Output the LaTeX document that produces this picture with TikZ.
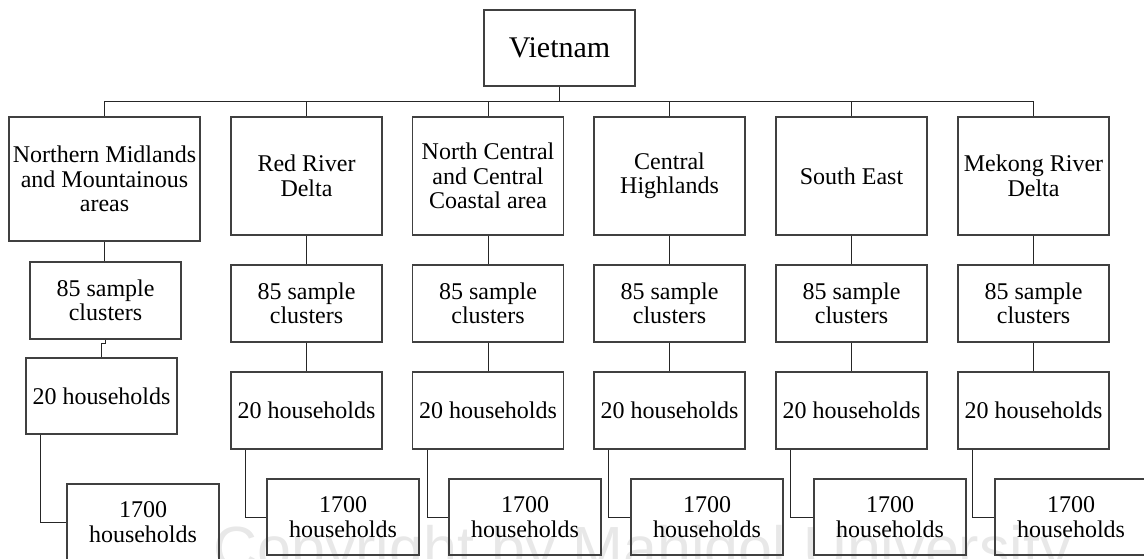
\documentclass[tikz,border=0pt]{standalone}
\usepackage{fontspec}
\setmainfont{Liberation Serif}
\newfontfamily\wmfont{Liberation Sans}
\begin{document}
\begin{tikzpicture}[x=1pt,y=-1pt,
  box/.style={draw=black!75,line width=1.1pt,inner sep=0pt,align=center,
    font=\fontsize{24}{24.5}\selectfont,minimum width=151pt,text=black},
  link/.style={draw=black!85,line width=1pt}]
\useasboundingbox (0,0) rectangle (1144,558);
\node[anchor=base west,text=black!9,inner sep=0pt,font=\wmfont\fontsize{61}{61}\selectfont] (wm) at (213,569) {Copyright by Mahidol University};
% top
\node[box,minimum width=151pt,minimum height=76pt,font=\fontsize{30}{31}\selectfont] (V) at (559.5,48) {Vietnam};
% row 1
\node[box,minimum width=191pt,minimum height=124pt] (A1) at (104.5,179) {Northern Midlands\\and Mountainous\\areas};
\node[box,minimum height=118pt] (B1) at (306.5,176) {Red River\\Delta};
\node[box,minimum height=118pt] (C1) at (488,176) {North Central\\and Central\\Coastal area};
\node[box,minimum height=118pt] (D1) at (669.5,176) {Central\\Highlands};
\node[box,minimum height=118pt] (E1) at (851.5,176) {South East};
\node[box,minimum height=118pt] (F1) at (1033.5,176) {Mekong River\\Delta};
% row 2
\node[box,minimum height=77pt] (A2) at (105.5,300.5) {85 sample\\clusters};
\node[box,minimum height=77pt] (B2) at (306.5,303.5) {85 sample\\clusters};
\node[box,minimum height=77pt] (C2) at (488,303.5) {85 sample\\clusters};
\node[box,minimum height=77pt] (D2) at (669.5,303.5) {85 sample\\clusters};
\node[box,minimum height=77pt] (E2) at (851.5,303.5) {85 sample\\clusters};
\node[box,minimum height=77pt] (F2) at (1033.5,303.5) {85 sample\\clusters};
% row 3
\node[box,minimum height=76pt] (A3) at (101.5,396) {20 households};
\node[box,minimum height=77pt] (B3) at (306.5,410.5) {20 households};
\node[box,minimum height=77pt] (C3) at (488,410.5) {20 households};
\node[box,minimum height=77pt] (D3) at (669.5,410.5) {20 households};
\node[box,minimum height=77pt] (E3) at (851.5,410.5) {20 households};
\node[box,minimum height=77pt] (F3) at (1033.5,410.5) {20 households};
% row 4
\node[box,minimum width=152pt,minimum height=76pt] (A4) at (143,522) {1700\\households};
\node[box,minimum width=152pt,minimum height=76pt] (B4) at (343,517) {1700\\households};
\node[box,minimum width=152pt,minimum height=76pt] (C4) at (525,517) {1700\\households};
\node[box,minimum width=152pt,minimum height=76pt] (D4) at (707,517) {1700\\households};
\node[box,minimum width=152pt,minimum height=76pt] (E4) at (890,517) {1700\\households};
\node[box,minimum width=152pt,minimum height=76pt] (F4) at (1071,517) {1700\\households};
% bus
\coordinate (busL) at (104.5,101);
\coordinate (busR) at (1033.5,101);
\draw[link] (busL) -- (busR);
\draw[link] (V.south) -- (V.south |- busL);
\foreach \n in {A1,B1,C1,D1,E1,F1}{
  \draw[link] (busL -| \n.north) -- (\n.north);
}
% row1 -> row2
\draw[link,line width=1.4pt] (A1.south) -- (A1.south |- A2.north);
\foreach \c in {B,C,D,E,F}{
  \draw[link] (\c1.south) -- (\c2.north);
  \draw[link] (\c2.south) -- (\c3.north);
}
% row2 -> row3 (Northern, with jog)
\draw[link] (A2.south) -- ++(0,4) -| (A3.north);
% row3 -> row4
\foreach \c in {A,B,C,D,E,F}{
  \draw[link] ([xshift=15.5pt]\c3.south west) |- (\c4.west);
}
\end{tikzpicture}
\end{document}
